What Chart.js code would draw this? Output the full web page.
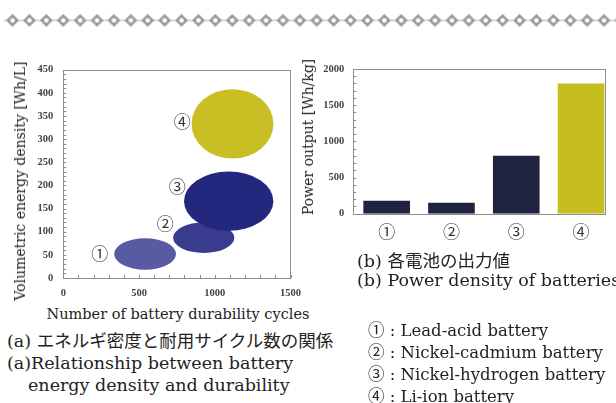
<!DOCTYPE html>
<html><head><meta charset="utf-8">
<script src="https://cdn.jsdelivr.net/npm/chart.js@4/dist/chart.umd.min.js"></script>
<style>
html,body{margin:0;padding:0;background:#fff;width:616px;height:403px;overflow:hidden;}
#wrap{position:relative;width:616px;height:403px;}
canvas{position:absolute;}
.t{position:absolute;white-space:nowrap;font-family:"DejaVu Serif","Noto Sans CJK JP",serif;color:#222;line-height:1;transform:translateY(-50%);}
.rot{position:absolute;white-space:nowrap;font-family:"DejaVu Serif",serif;color:#222;line-height:1;transform:translate(-50%,-50%) rotate(-90deg);}
</style></head>
<body><div id="wrap">
<svg width="616" height="40" style="position:absolute;left:0;top:0">
  <defs>
    <pattern id="dia" x="4.1" y="13.4" width="16.9" height="14" patternUnits="userSpaceOnUse">
      <line x1="0" y1="7" x2="16.9" y2="7" stroke="#bbb" stroke-width="1.2"/>
      <polygon points="8.45,0.5 15,7 8.45,13.5 1.9,7" fill="#9a9a9a"/>
      <circle cx="8.45" cy="7" r="2.3" fill="#fff"/>
    </pattern>
  </defs>
  <rect x="4" y="13.4" width="612" height="14" fill="url(#dia)"/>
</svg>
<canvas id="left" width="310" height="300" style="left:0;top:0"></canvas>
<canvas id="right" width="316" height="300" style="left:300px;top:0"></canvas>

<div class="rot" style="left:20px;top:181px;font-size:14px">Volumetric energy density [Wh/L]</div>
<div class="t" style="left:50%;"></div>
<div class="t" id="xt" style="left:178px;top:314px;font-size:14.5px;transform:translate(-50%,-50%)">Number of battery durability cycles</div>
<div class="t" style="left:7px;top:342px;font-size:17.5px">(a) エネルギ密度と耐用サイクル数の関係</div>
<div class="t" style="left:7px;top:364px;font-size:17.5px">(a)Relationship between battery</div>
<div class="t" style="left:28px;top:386px;font-size:17.5px">energy density and durability</div>

<div class="rot" style="left:308px;top:137px;font-size:14px">Power output [Wh/kg]</div>
<div class="t" style="left:357px;top:262px;font-size:17.5px">(b) 各電池の出力値</div>
<div class="t" style="left:357px;top:281px;font-size:17.5px">(b) Power density of batteries</div>

<div class="t" style="left:368px;top:331px;font-size:16.5px">① : Lead-acid battery</div>
<div class="t" style="left:368px;top:353px;font-size:16.5px">② : Nickel-cadmium battery</div>
<div class="t" style="left:368px;top:375px;font-size:16.5px">③ : Nickel-hydrogen battery</div>
<div class="t" style="left:368px;top:397px;font-size:16.5px">④ : Li-ion battery</div>
</div>
<script>
// ---- data ----
const batteryMarks = ['①','②','③','④'];
const cycles      = [540, 927, 1092, 1117];   // ellipse centre, durability cycles
const cyclesHalf  = [204, 202, 295, 270];     // half extent in cycles
const energy      = [52, 87, 166, 333];       // ellipse centre, Wh/L
const energyHalf  = [34, 33, 64, 75];         // half extent in Wh/L
const markCycles  = [240, 673, 753, 786];     // label positions
const markEnergy  = [53, 118, 197, 338];
const powerOutput = [180, 150, 800, 1800];    // Wh/kg
const cycleLabelStep = 500;
const energyLabelStep = 50;
const powerLabelStep = 500;

// ---- styles ----
const ellipseColors = ['rgb(88,90,162)','rgb(56,59,142)','rgb(36,39,126)','rgb(201,191,36)'];
const barColors = ['#1f2340','#1f2340','#1f2340','#c6bd1f'];
const tickFont = {family:'Liberation Serif', size:10.5, weight:'bold'};
const markFont = '17px "Noto Sans CJK JP"';

const framePlugin = {
  id:'frame',
  afterDatasetsDraw(chart){
    const {ctx, chartArea:a} = chart;
    ctx.save();
    ctx.strokeStyle = '#8c8c8c';
    ctx.lineWidth = 1;
    ctx.beginPath();
    const opts = chart.options.plugins.frame || {};
    (opts.yTicks ? chart.scales.y.ticks : []).forEach(t=>{
      const py = Math.round(chart.scales.y.getPixelForValue(t.value))+0.5;
      ctx.moveTo(a.left, py); ctx.lineTo(a.left+3, py);
    });
    (opts.xTicks ? chart.scales.x.ticks : []).forEach(t=>{
      const px = Math.round(chart.scales.x.getPixelForValue(t.value))+0.5;
      ctx.moveTo(px, a.bottom); ctx.lineTo(px, a.bottom-3);
    });
    ctx.stroke();
    ctx.strokeRect(Math.round(a.left)+0.5, Math.round(a.top)+0.5, Math.round(a.right-a.left), Math.round(a.bottom-a.top));
    ctx.restore();
  }
};

const ellipsePlugin = {
  id:'ellipses',
  afterDatasetsDraw(chart){
    const {ctx, scales:{x,y}} = chart;
    const ds = chart.data.datasets[0];
    ctx.save();
    ds.data.forEach((p,i)=>{
      const cx = x.getPixelForValue(p.x), cy = y.getPixelForValue(p.y);
      const rx = Math.abs(x.getPixelForValue(p.x+p.rx)-cx);
      const ry = Math.abs(y.getPixelForValue(p.y+p.ry)-cy);
      ctx.beginPath();
      ctx.ellipse(cx, cy, rx, ry, 0, 0, Math.PI*2);
      ctx.fillStyle = ds.ellipseColors[i];
      ctx.fill();
    });
    ctx.font = markFont;
    ctx.fillStyle = '#333';
    ctx.textAlign = 'center';
    ctx.textBaseline = 'middle';
    batteryMarks.forEach((m,i)=>{
      ctx.fillText(m, x.getPixelForValue(markCycles[i]), y.getPixelForValue(markEnergy[i]));
    });
    ctx.restore();
  }
};

new Chart(document.getElementById('left'), {
  type:'scatter',
  data:{datasets:[{
    data: cycles.map((c,i)=>({x:c, y:energy[i], rx:cyclesHalf[i], ry:energyHalf[i]})),
    pointRadius:0, pointHoverRadius:0,
    ellipseColors: ellipseColors
  }]},
  options:{
    responsive:false, animation:false, devicePixelRatio:1,
    layout:{padding:{top:69.7, right:17.7, left:0, bottom:0}},
    plugins:{legend:{display:false}, tooltip:{enabled:false}, frame:{yTicks:true, xTicks:true}},
    scales:{
      x:{type:'linear', min:0, max:1500,
        grid:{display:false, drawTicks:false}, border:{display:false},
        ticks:{stepSize:100, autoSkip:false, maxRotation:0, padding:9, font:tickFont, color:'#444',
          callback:v=> v%cycleLabelStep===0 ? v : ''},
        afterFit:s=>{s.height=22;}},
      y:{type:'linear', min:0, max:450,
        grid:{display:false, drawTicks:false}, border:{display:false},
        ticks:{stepSize:10, autoSkip:false, padding:10, font:tickFont, color:'#444',
          callback:v=> v%energyLabelStep===0 ? v : ''},
        afterFit:s=>{s.width=63.3;}}
    }
  },
  plugins:[ellipsePlugin, framePlugin]
});

new Chart(document.getElementById('right'), {
  type:'bar',
  data:{datasets:[{
    data: powerOutput.map((v,i)=>({x:i+1, y:v})),
    backgroundColor: barColors, borderWidth:0,
    barPercentage:0.72, categoryPercentage:1
  }]},
  options:{
    responsive:false, animation:false, devicePixelRatio:1,
    layout:{padding:{top:69, right:11, left:0, bottom:0}},
    plugins:{legend:{display:false}, tooltip:{enabled:false}, frame:{yTicks:true, xTicks:false}},
    scales:{
      x:{type:'linear', min:0.485, max:4.37, offset:false,
        grid:{display:false, drawTicks:false, offset:false}, border:{display:false},
        afterBuildTicks:ax=>{ ax.ticks = batteryMarks.map((m,i)=>({value:i+1})); },
        ticks:{autoSkip:false, maxRotation:0, padding:8, font:{family:'Noto Sans CJK JP', size:17}, color:'#333',
          callback:(v,i)=> batteryMarks[i]},
        afterFit:s=>{s.height=86.3;}},
      y:{type:'linear', min:0, max:2000,
        grid:{display:false, drawTicks:false}, border:{display:false},
        ticks:{stepSize:100, autoSkip:false, padding:9, font:tickFont, color:'#444',
          callback:v=> v%powerLabelStep===0 ? v : ''},
        afterFit:s=>{s.width=53.3;}}
    }
  },
  plugins:[framePlugin]
});
</script>
</body></html>
